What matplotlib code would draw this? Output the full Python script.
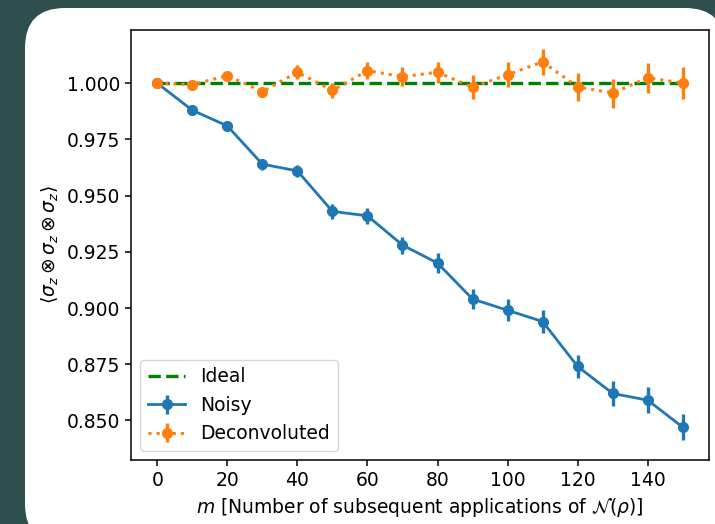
import matplotlib
matplotlib.use("Agg")
import matplotlib.pyplot as plt
from matplotlib.patches import FancyBboxPatch
from matplotlib.transforms import IdentityTransform

# number of applications of the noise channel
m = [0, 10, 20, 30, 40, 50, 60, 70, 80, 90, 100, 110, 120, 130, 140, 150]

ideal = [1.0, 1.0, 1.0, 1.0, 1.0, 1.0, 1.0, 1.0, 1.0, 1.0, 1.0, 1.0, 1.0, 1.0, 1.0, 1.0]

noisy = [1.000, 0.988, 0.981, 0.964, 0.961, 0.943, 0.941, 0.928,
         0.920, 0.904, 0.899, 0.894, 0.874, 0.862, 0.859, 0.847]
noisy_err = [0.0003, 0.001, 0.0015, 0.0025, 0.0026, 0.0035, 0.0035, 0.0038,
             0.0043, 0.0044, 0.0048, 0.005, 0.0053, 0.0055, 0.0057, 0.0059]

deconv = [1.000, 0.9994, 1.0034, 0.9963, 1.0049, 0.9968, 1.0056, 1.0029,
          1.0049, 0.9982, 1.0038, 1.0095, 0.9984, 0.9956, 1.0024, 1.0001]
deconv_err = [0.0003, 0.001, 0.0015, 0.0022, 0.003, 0.0033, 0.0037, 0.0043,
              0.0047, 0.0054, 0.0055, 0.0057, 0.0063, 0.0064, 0.0067, 0.007]

plt.rcParams['font.size'] = 13.5

W, H = 715, 524
fig = plt.figure(figsize=(W / 100, H / 100), dpi=100, facecolor='#2f4f4f')

# white rounded card behind the plot
card = FancyBboxPatch((25, -20), 700, H - 8 + 20,
                      boxstyle="round,pad=0,rounding_size=40",
                      transform=IdentityTransform(), facecolor='white',
                      edgecolor='none', zorder=0)
fig.add_artist(card)

ax = fig.add_axes([131 / W, 64 / H, (709 - 131) / W, (494.5 - 64) / H])

ax.plot(m, ideal, 'g--', lw=2.4, label='Ideal')
ax.errorbar(m, noisy, yerr=noisy_err, fmt='-o', color='#1f77b4', lw=2.0,
            elinewidth=2.4, ms=7, label='Noisy')
ax.errorbar(m, deconv, yerr=deconv_err, fmt=':o', color='#ff7f0e', lw=2.2,
            elinewidth=2.4, ms=7, label='Deconvoluted')

ax.set_xticks([0, 20, 40, 60, 80, 100, 120, 140])
ax.set_yticks([0.850, 0.875, 0.900, 0.925, 0.950, 0.975, 1.000])
ax.yaxis.set_major_formatter(matplotlib.ticker.FormatStrFormatter('%.3f'))
ax.tick_params(length=4.5, width=1.1)
for s in ax.spines.values():
    s.set_linewidth(1.1)

ax.set_xlabel(r'$m$ [Number of subsequent applications of $\mathcal{N}(\rho)$]')
ax.set_ylabel(r'$\langle\sigma_z \otimes \sigma_z \otimes \sigma_z\rangle$')

ax.legend(loc='lower left')

fig.savefig('out.png', dpi=100, facecolor=fig.get_facecolor())
